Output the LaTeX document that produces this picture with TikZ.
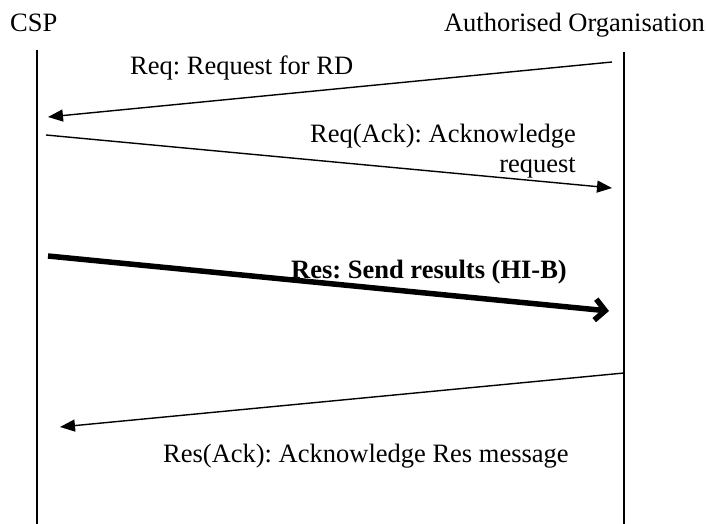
\documentclass[tikz,border=0pt]{standalone}
\usepackage{fontspec}
\setmainfont{Liberation Serif}
\usetikzlibrary{arrows.meta}
\usetikzlibrary{positioning}

\begin{document}
\frenchspacing
\begin{tikzpicture}
  [x=1pt, y=-1pt,
   every node/.style={inner sep=0pt, font=\fontsize{26.5}{30}\selectfont},
   lifeline/.style={line width=1.6pt},
   msg/.style={line width=1.4pt, -{Triangle[length=15pt,width=12pt]}},
   bigmsg/.style={line width=5.5pt, -{Straight Barb[length=10pt,width=21pt]}}
  ]
  \useasboundingbox (0,0) rectangle (707,524);
  \node (csp) [anchor=base west] at (10,32) {CSP};
  \node (org) [anchor=base east] at (705,32) {Authorised Organisation};
 \path
   (37,50)    coordinate (csptop)
   (37,524)   coordinate (cspbot)
   (624,52)   coordinate (orgtop)
   (624,524)  coordinate (orgbot)
   (612,62)   coordinate (req0)
   (48,117)   coordinate (req1)
   (46,135)   coordinate (reqack0)
   (612,188)  coordinate (reqack1)
   (48,256)   coordinate (res0)
   (609,311)  coordinate (res1)
   (624,373)  coordinate (resack0)
   (60,427)   coordinate (resack1)
   ;
  \draw [lifeline] (csptop) -- (cspbot);
  \draw [lifeline] (orgtop) -- (orgbot);

  \draw [msg] (req0) -- (req1);
  \draw [msg] (reqack0) -- (reqack1);
  \draw [bigmsg] (res0) -- (res1);
  \draw [msg] (resack0) -- (resack1);

  \node (reqlbl) [anchor=base west] at (130,75) {Req: Request for RD};
  % base anchor sits on the last line
  \node (reqacklbl) [anchor=base east, align=right] at (576,172) {Req(Ack): Acknowledge\\request};
  \node (reslbl) [anchor=base east, font=\fontsize{26.5}{30}\selectfont\bfseries] at (567,278) {Res: Send results (HI-B)};
  \node (resacklbl) [anchor=base west] at (163,462) {Res(Ack): Acknowledge Res message};
\end{tikzpicture}
\end{document}
